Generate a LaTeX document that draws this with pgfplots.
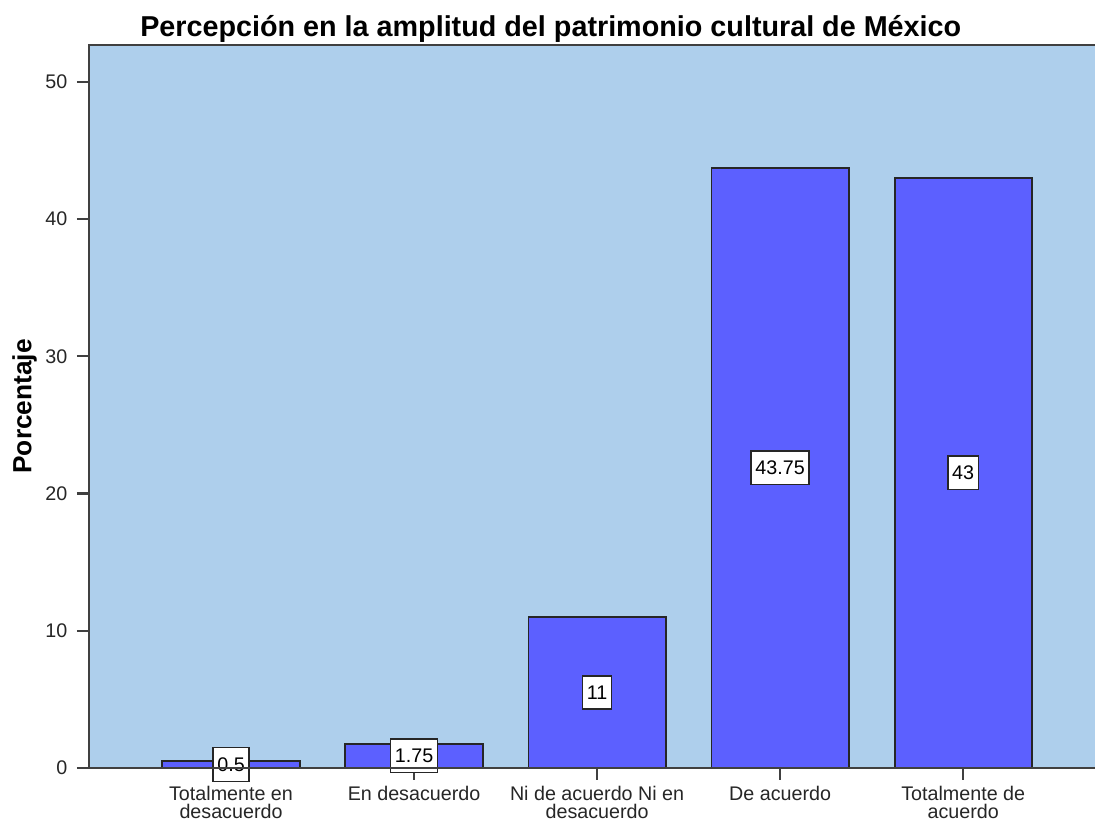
\documentclass[border=0pt]{standalone}
\usepackage{fontspec}
\setmainfont{Liberation Sans}
\usepackage{pgfplots}
\usepackage{pgfplotstable}
\pgfplotsset{compat=1.18}
\definecolor{bgblue}{RGB}{174,207,236}
\definecolor{barblue}{RGB}{92,96,255}
\definecolor{axisgray}{RGB}{64,64,64}

\pgfplotstableread{
x y lab
0 0.5 0.5
1 1.75 1.75
2 11 11
3 43.75 43.75
4 43 43
}\datatab

\begin{document}
\begin{tikzpicture}
\useasboundingbox (-32.5pt,-19.4pt) rectangle (367.5pt,280.5pt);
\begin{axis}[
    at={(0,0)}, anchor=south west,
    scale only axis,
    width=367.5pt, height=264.1pt,
    xmin=-0.776, xmax=4.72,
    ymin=0, ymax=52.7,
    ytick={0,10,20,30,40,50},
    xtick={0,1,2,3,4},
    xticklabels={{Totalmente en\\desacuerdo},{En desacuerdo},{Ni de acuerdo Ni en\\desacuerdo},{De acuerdo},{Totalmente de\\acuerdo}},
    x tick label style={font=\fontsize{7.2}{6.7}\selectfont, align=center, text=black!85, yshift=1.2pt},
    y tick label style={font=\fontsize{7.2}{8}\selectfont, text=black!85},
    /pgf/number format/assume math mode=true,
    tick align=outside,
    major tick length=4.4pt,
    tick style={axisgray, line width=0.8pt},
    xtick pos=bottom, ytick pos=left,
    axis background/.style={fill=bgblue},
    axis line style={draw=none},
    ylabel={\textbf{Porcentaje}},
    ylabel style={font=\fontsize{9.6}{10}\selectfont, at={(axis description cs:-0.064,0.5)}, anchor=center},
    title={\textbf{Percepción en la amplitud del patrimonio cultural de México}},
    title style={font=\fontsize{10.5}{11}\selectfont, at={(rel axis cs:0.459,1)}, anchor=base, yshift=-3.1pt},
    clip=false,
    extra description/.code={
        \draw[axisgray, line width=0.8pt] (rel axis cs:1,1) -- (rel axis cs:0,1) -- (rel axis cs:0,0) -- (rel axis cs:1,0);
    },
]
\addplot[ybar, bar width=0.75, fill=barblue, draw=black!85, line width=0.7pt]
    table[x=x, y=y] {\datatab};
\addplot[only marks, mark=none, nodes near coords, point meta=explicit symbolic,
    every node near coord/.style={anchor=center, fill=white, draw=black!85, line width=0.55pt,
        inner xsep=1.6pt, inner ysep=3.6pt, font=\fontsize{7.2}{8}\selectfont}]
    table[x=x, y expr=\thisrow{y}/2, meta=lab] {\datatab};
\end{axis}
\end{tikzpicture}
\end{document}
